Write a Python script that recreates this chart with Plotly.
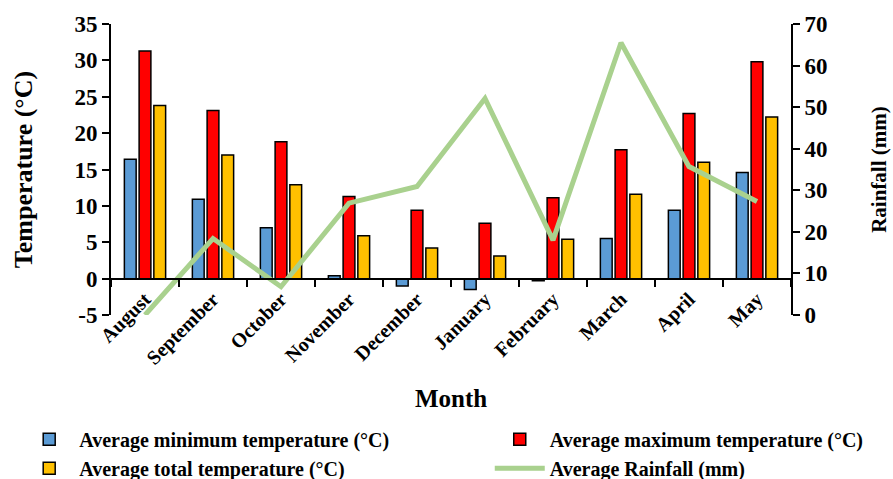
import plotly.graph_objects as go

months = ["August", "September", "October", "November", "December",
          "January", "February", "March", "April", "May"]
t_min = [16.4, 10.9, 7.0, 0.4, -1.0, -1.5, -0.3, 5.5, 9.4, 14.6]
t_max = [31.3, 23.1, 18.8, 11.3, 9.4, 7.6, 11.1, 17.7, 22.7, 29.8]
t_avg = [23.8, 17.0, 12.9, 5.9, 4.2, 3.1, 5.4, 11.6, 16.0, 22.2]
rain = [0.0, 18.4, 6.8, 26.9, 30.9, 52.1, 18.0, 65.5, 35.7, 27.3]
temp_ticks = [-5, 0, 5, 10, 15, 20, 25, 30, 35]
temp_tick_labels = ["-5", "0", "5", "10", "15", "20", "25", "30", "35"]

FONT = "Liberation Serif"
fig = go.Figure()
fig.add_trace(go.Bar(x=months, y=t_min, name="Average minimum temperature (°C)",
                     marker=dict(color="#5B9BD5", line=dict(color="black", width=1.5)),
                     legend="legend"))
fig.add_trace(go.Bar(x=months, y=t_max, name="Average maximum temperature (°C)",
                     marker=dict(color="#FF0000", line=dict(color="black", width=1.5)),
                     legend="legend2"))
fig.add_trace(go.Bar(x=months, y=t_avg, name="Average total temperature (°C)",
                     marker=dict(color="#FFC000", line=dict(color="black", width=1.5)),
                     legend="legend"))
fig.add_trace(go.Scatter(x=months, y=rain, name="Average Rainfall (mm)", mode="lines",
                         line=dict(color="#A9D18E", width=5), yaxis="y2",
                         legend="legend2"))

tick_font = dict(family=FONT, size=23, color="black", weight="bold")
legend_font = dict(family=FONT, size=20, color="black", weight="bold")
fig.update_layout(
    width=893, height=479,
    margin=dict(l=111, r=102, t=24, b=164, autoexpand=False),
    plot_bgcolor="white", paper_bgcolor="white",
    barmode="group", bargap=0.35, bargroupgap=0.2,
    xaxis=dict(anchor="free", position=0.125, showline=True, linecolor="black", linewidth=2,
               ticks="outside", tickson="boundaries", ticklen=7, tickcolor="black", tickwidth=2,
               tickangle=-45, tickfont=dict(family=FONT, size=20, color="black", weight="bold"),
               title=dict(text="Month", font=dict(family=FONT, size=25, color="black", weight="bold"),
                          standoff=20),
               showgrid=False, automargin=False),
    yaxis=dict(range=[-5, 35], tickvals=temp_ticks, ticktext=temp_tick_labels,
               showline=True, linecolor="black", linewidth=2,
               ticks="outside", ticklen=7, tickcolor="black", tickwidth=2,
               tickfont=tick_font, showgrid=False, zeroline=False,
               title=dict(text="Temperature (°C)", font=dict(family=FONT, size=26, color="black", weight="bold"),
                          standoff=34),
               automargin=False),
    yaxis2=dict(range=[0, 70], dtick=10, overlaying="y", side="right", showline=True,
                linecolor="black", linewidth=2, ticks="outside", ticklen=7, tickcolor="black",
                tickwidth=2, tickfont=tick_font, showgrid=False, zeroline=False,
                title=dict(text="Rainfall (mm)", font=dict(family=FONT, size=21, color="black", weight="bold"),
                           standoff=45),
                automargin=False),
    legend=dict(x=-0.135, y=-0.36, xanchor="left", yanchor="top", orientation="v",
                font=legend_font, itemwidth=50, tracegroupgap=0, bgcolor="rgba(0,0,0,0)"),
    legend2=dict(x=0.557, y=-0.36, xanchor="left", yanchor="top", orientation="v",
                 font=legend_font, itemwidth=50, tracegroupgap=0, bgcolor="rgba(0,0,0,0)"),
    showlegend=True,
)
fig.write_html("out.html", config={"displayModeBar": False},
               post_script="document.body.style.margin='0';")
